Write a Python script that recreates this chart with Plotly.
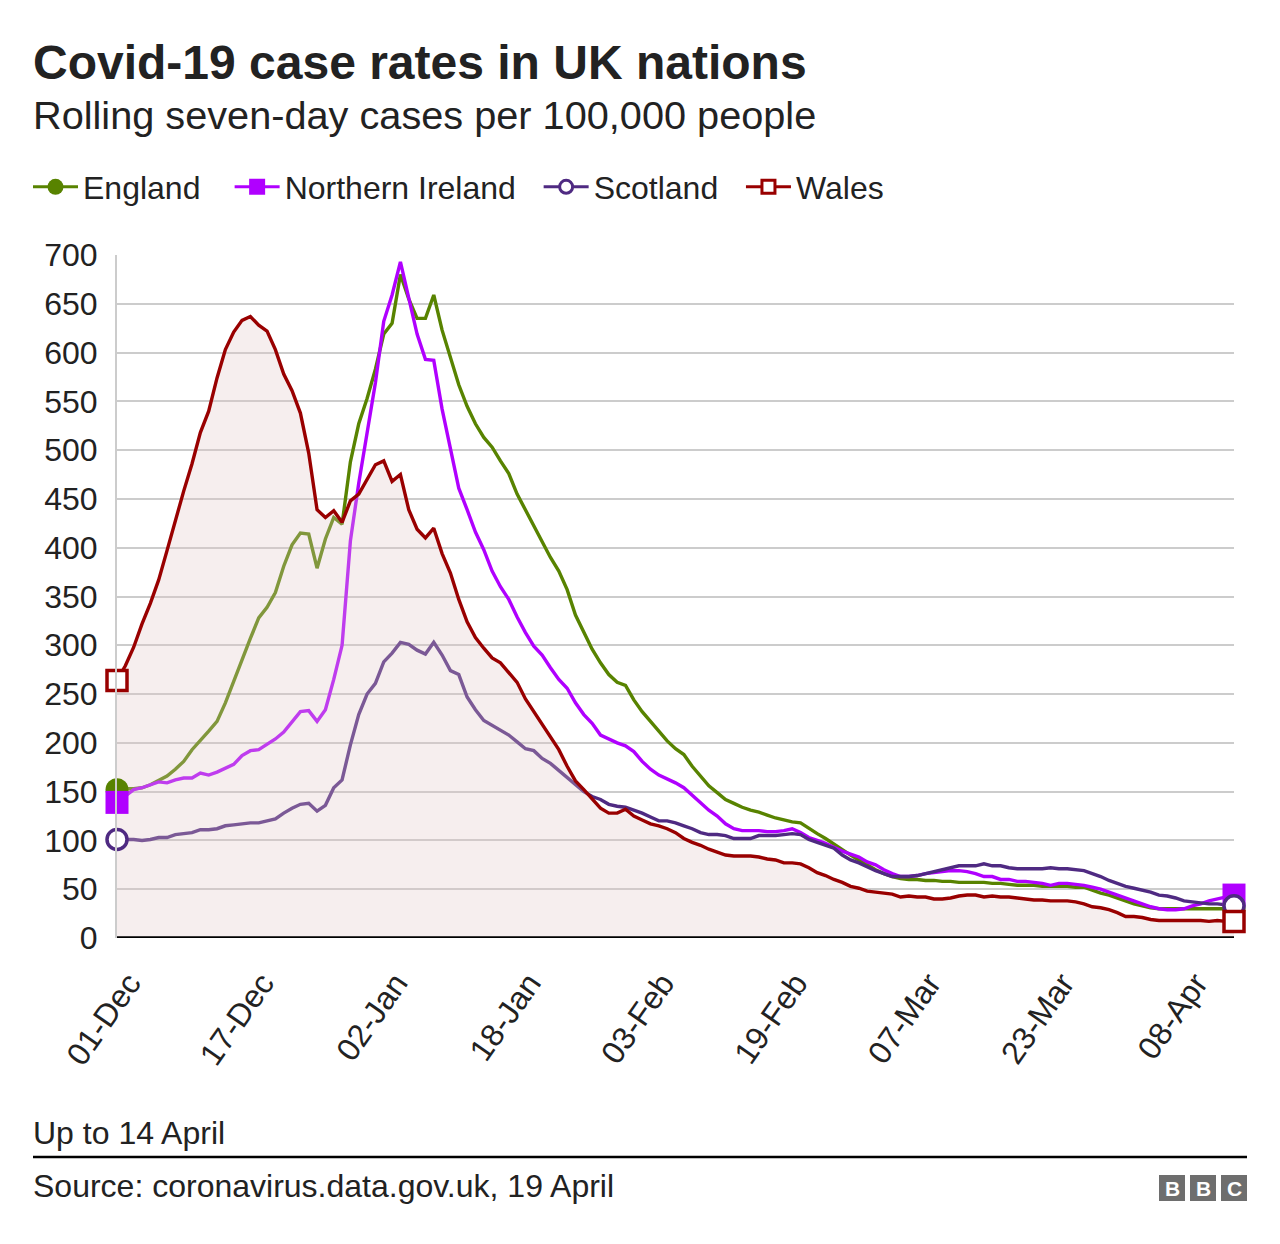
import pandas as pd
import plotly.graph_objects as go

dates = pd.date_range("2020-12-01", "2021-04-14", freq="D")

england = [152,153,153,154,157,162,166,173,181,193,202,212,222,241,263,286,307,328,339,354,
           381,403,415,414,379,409,431,424,488,527,553,583,619,630,680,655,635,635,659,623,
           596,567,545,527,513,503,489,476,455,439,423,407,390,376,357,331,313,296,282,270,
           262,259,244,232,222,212,202,194,188,176,166,156,149,142,138,134,131,129,126,123,
           121,119,118,112,107,102,96,90,85,80,75,70,66,63,61,60,60,59,59,58,
           58,57,57,57,57,56,56,55,54,54,54,53,53,53,53,52,52,49,46,44,
           41,38,35,33,31,30,30,30,30,30,30,30,30,30,30]
n_ireland = [139,146,152,154,157,160,159,162,164,164,169,167,170,174,178,187,192,193,198,204,
             211,222,232,233,222,234,265,300,407,466,520,569,632,659,693,655,619,593,592,542,
             502,461,439,416,398,376,360,347,329,313,299,290,277,265,256,241,229,220,208,204,
             200,197,191,181,173,167,163,159,154,146,139,131,125,117,112,110,110,110,109,109,
             110,112,108,103,100,97,93,89,86,83,78,75,70,66,63,63,64,66,67,68,
             69,69,68,66,63,63,60,60,58,58,57,56,54,56,56,55,54,52,50,47,
             44,41,38,35,32,30,29,29,30,33,35,38,40,42,44]
scotland = [101,101,101,100,101,103,103,106,107,108,111,111,112,115,116,117,118,118,120,122,
            128,133,137,138,130,136,154,162,198,229,250,261,283,292,303,301,295,291,303,290,
            274,270,247,234,223,218,213,208,201,194,192,184,179,172,164,157,150,145,142,137,
            135,134,131,128,124,120,120,118,115,112,108,106,106,105,102,102,102,105,105,105,
            106,107,106,101,98,95,92,85,80,77,73,69,66,63,63,63,64,66,68,70,
            72,74,74,74,76,74,74,72,71,71,71,71,72,71,71,70,69,66,63,59,
            56,53,51,49,47,44,43,41,38,37,36,35,35,34,33]
wales = [264,279,298,322,343,367,397,428,458,486,518,540,574,603,621,633,637,628,622,603,
         578,561,538,497,439,431,438,426,448,455,470,485,489,468,475,439,419,410,420,394,
         374,347,324,308,297,287,282,272,262,245,232,220,206,193,176,161,152,143,133,128,
         128,132,125,121,117,115,112,108,102,98,95,91,88,85,84,84,84,83,81,80,
         77,77,76,72,67,64,60,57,53,51,48,47,46,45,42,43,42,42,40,40,
         41,43,44,44,42,43,42,42,41,40,39,39,38,38,38,37,35,32,31,29,
         26,22,22,21,19,18,18,18,18,18,18,17,18,17,17]

tick_dates = ["2020-12-01", "2020-12-17", "2021-01-02", "2021-01-18", "2021-02-03",
              "2021-02-19", "2021-03-07", "2021-03-23", "2021-04-08"]
tick_text = ["01-Dec", "17-Dec", "02-Jan", "18-Jan", "03-Feb", "19-Feb", "07-Mar", "23-Mar", "08-Apr"]

names = ["England", "Northern Ireland", "Scotland", "Wales"]
colors = ["#588300", "#b000ff", "#4f2a82", "#990000"]
symbols = ["circle", "square", "circle-open", "square-open"]
series = [england, n_ireland, scotland, wales]
# trailing spacing after each legend label (to reproduce the reference spacing)
legend_pad = ["\u00a0\u00a0\u2009", "\u00a0\u00a0", "\u00a0\u00a0", ""]

FONT = "Liberation Sans, Arial, Helvetica, sans-serif"
TXT = "#222222"
LW = 3.4

fig = go.Figure()

for name, col, ys in zip(names[:3], colors[:3], series[:3]):
    fig.add_trace(go.Scatter(x=dates, y=ys, mode="lines", name=name, showlegend=False,
                             line=dict(color=col, width=LW), hoverinfo="x+y+name"))

# translucent pink area under Wales (drawn over the other lines)
fig.add_trace(go.Scatter(x=dates, y=wales, mode="lines", fill="tozeroy", showlegend=False,
                         fillcolor="rgba(225,200,200,0.3)", line=dict(width=0),
                         hoverinfo="skip"))
fig.add_trace(go.Scatter(x=dates, y=wales, mode="lines", name="Wales", showlegend=False,
                         line=dict(color=colors[3], width=LW), hoverinfo="x+y+name"))

# end-point markers
for name, col, sym, ys in zip(names, colors, symbols, series):
    filled = not sym.endswith("open")
    fig.add_trace(go.Scatter(
        x=[dates[0], dates[-1]], y=[ys[0], ys[-1]], mode="markers", showlegend=False,
        cliponaxis=False, hoverinfo="skip",
        marker=dict(symbol=sym.replace("-open", ""), size=23 if filled else 20,
                    color=col if filled else "white",
                    line=dict(color=col, width=0 if filled else 3.5))))

# legend entries
for name, col, sym, pad in zip(names, colors, symbols, legend_pad):
    filled = not sym.endswith("open")
    fig.add_trace(go.Scatter(
        x=[None], y=[None], mode="lines+markers", name=name + pad,
        line=dict(color=col, width=3),
        marker=dict(symbol=sym.replace("-open", ""), size=16 if filled else 13,
                    color=col if filled else "white",
                    line=dict(color=col, width=0 if filled else 3))))

L, R, T, B = 117, 46, 255, 306
PW, PH = 1280 - L - R, 1244 - T - B


def px_x(px):
    return (px - L) / PW


def px_y(py):
    return 1 - (py - T) / PH


fig.update_layout(
    width=1280, height=1244,
    margin=dict(l=L, r=R, t=T, b=B),
    paper_bgcolor="white", plot_bgcolor="white",
    font=dict(family=FONT, color=TXT, size=32),
    showlegend=True,
    legend=dict(orientation="h", x=px_x(28), xanchor="left",
                y=px_y(187), yanchor="middle", itemwidth=45,
                font=dict(size=32, color=TXT), bgcolor="rgba(0,0,0,0)",
                itemsizing="trace"),
    xaxis=dict(type="date", range=[dates[0], dates[-1]],
               tickvals=pd.to_datetime(tick_dates), ticktext=tick_text,
               tickangle=-55, showgrid=False, zeroline=False,
               showline=False, ticks="", tickfont=dict(size=32, color=TXT),
               ticklabelstandoff=19, ticklabelshift=12),
    yaxis=dict(range=[0, 700], tickvals=list(range(0, 701, 50)),
               showgrid=True, gridcolor="#cccccc", gridwidth=2,
               zeroline=False, showline=True, linecolor="#cccccc", linewidth=2,
               ticks="", tickfont=dict(size=32, color=TXT), ticklabelstandoff=11),
)

shapes = [
    dict(type="line", xref="paper", yref="y", x0=0, x1=1, y0=0, y1=0,
         line=dict(color="black", width=3.5)),
    dict(type="line", xref="paper", yref="paper",
         x0=px_x(33), x1=px_x(1247), y0=px_y(1157), y1=px_y(1157),
         line=dict(color="black", width=2.5)),
]
ann = [
    dict(text="<b>Covid-19 case rates in UK nations</b>", x=px_x(31), y=px_y(62),
         xanchor="left", yanchor="middle", font=dict(size=48, color=TXT)),
    dict(text="Rolling seven-day cases per 100,000 people", x=px_x(31), y=px_y(115),
         xanchor="left", yanchor="middle", font=dict(size=39.7, color=TXT)),
    dict(text="Up to 14 April", x=px_x(31), y=px_y(1133),
         xanchor="left", yanchor="middle", font=dict(size=32, color=TXT)),
    dict(text="Source: coronavirus.data.gov.uk, 19 April", x=px_x(31), y=px_y(1186),
         xanchor="left", yanchor="middle", font=dict(size=32, color=TXT)),
]
for i, letter in enumerate("BBC"):
    x0 = 1159 + i * 31
    shapes.append(dict(type="rect", xref="paper", yref="paper",
                       x0=px_x(x0), x1=px_x(x0 + 26), y0=px_y(1201), y1=px_y(1175),
                       fillcolor="#6e6e6e", line=dict(width=0)))
    ann.append(dict(text="<b>%s</b>" % letter, x=px_x(x0 + 13), y=px_y(1188),
                    xanchor="center", yanchor="middle",
                    font=dict(size=21, color="white")))
for a in ann:
    a.update(xref="paper", yref="paper", showarrow=False)
fig.update_layout(annotations=ann, shapes=shapes)

fig.write_html("out.html")
